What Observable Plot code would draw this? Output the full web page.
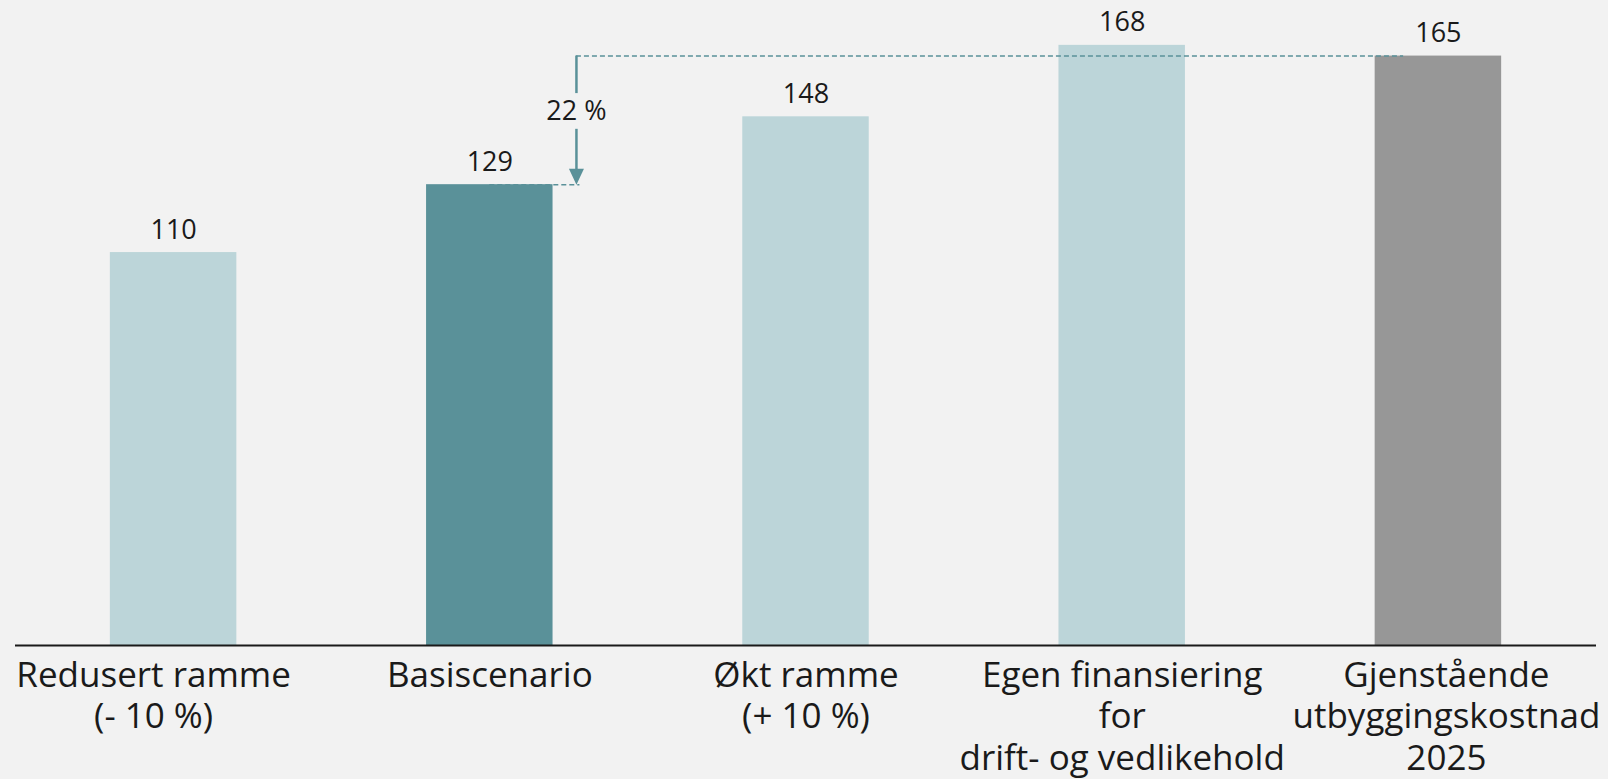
<!DOCTYPE html>
<html><head><meta charset="utf-8">
<script src="https://cdn.jsdelivr.net/npm/d3@7"></script>
<script src="https://cdn.jsdelivr.net/npm/@observablehq/plot@0.6"></script>
<style>
  html, body { margin: 0; padding: 0; background: #f2f2f2; }
  svg { display: block; }
</style>
</head><body>
<div id="chart"></div>
<script>
// ---- data ----
const categories = [
  "Redusert ramme\n(- 10 %)",
  "Basiscenario",
  "Økt ramme\n(+ 10 %)",
  "Egen finansiering\nfor\ndrift- og vedlikehold",
  "Gjenstående\nutbyggingskostnad\n2025"
];
const values = [110, 129, 148, 168, 165];
const kinds = ["scenario", "base", "scenario", "scenario", "remaining"];

// annotation: change from Basiscenario up to remaining cost
const changeLabel = "22 %";
const changeFrom = 129;
const changeTo = 165;

const data = categories.map((label, i) => ({i, label, value: values[i], kind: kinds[i]}));

// ---- layout / style ----
const W = 1608, H = 779, ML = 15, MR = 12;
const stepPx = (W - ML - MR) / categories.length;
const labelNudgePx = [-20, 0, 0, 0, 8];   // horizontal nudge of category labels (px)
const teal = "#5a9199";
const arrowX = 1.274;      // horizontal position of the arrow (in category index units)
const topDashEnd = 3.89;
const lowDashEnd = 1.285;
const halfBar = 0.2;

const triDown = {
  draw(ctx) {
    ctx.moveTo(-7.5, -16);
    ctx.lineTo(7.5, -16);
    ctx.lineTo(0, 0);
    ctx.closePath();
  }
};

const chart = Plot.plot({
  width: W,
  height: H,
  marginLeft: ML,
  marginRight: MR,
  marginTop: 2,
  marginBottom: 134,
  style: {background: "#f2f2f2", fontFamily: "'Open Sans', sans-serif", color: "#1a1a1a"},
  x: {type: "linear", domain: [-0.5, 4.5], axis: null},
  y: {domain: [0, 180], axis: null},
  color: {domain: ["scenario", "base", "remaining"], range: ["#bcd5d9", teal, "#979797"]},
  marks: [
    Plot.rectY(data, {x1: d => d.i - halfBar, x2: d => d.i + halfBar, y: "value", fill: "kind"}),
    Plot.ruleY([0], {stroke: "#1a1a1a", strokeWidth: 2}),
    Plot.text(data, {x: "i", y: "value", text: d => String(d.value), lineAnchor: "bottom", dy: -14, fontSize: 27, fill: "#1a1a1a"}),
    Plot.text(data, {x: d => d.i + labelNudgePx[d.i] / stepPx, y: 0, text: "label", lineAnchor: "top", dy: 11.3, fontSize: 35, lineHeight: 1.195, fill: "#1a1a1a"}),
    // dashed reference lines
    Plot.ruleY([changeTo], {x1: arrowX, x2: topDashEnd, stroke: teal, strokeWidth: 1.5, strokeDasharray: "5,3"}),
    Plot.ruleY([changeFrom], {x1: 1, x2: lowDashEnd, stroke: teal, strokeWidth: 1.5, strokeDasharray: "5,3"}),
    // arrow
    Plot.ruleX([arrowX], {y1: changeTo, y2: 154.5, stroke: teal, strokeWidth: 2.5}),
    Plot.ruleX([arrowX], {y1: 144.5, y2: 131, stroke: teal, strokeWidth: 2.5}),
    Plot.dot([{x: arrowX, y: changeFrom}], {x: "x", y: "y", symbol: triDown, fill: teal, stroke: "none"}),
    Plot.text([{x: arrowX, y: (changeFrom + changeTo) / 2}], {x: "x", y: "y", text: () => changeLabel, lineAnchor: "bottom", fontSize: 27, fill: "#1a1a1a"})
  ]
});
document.getElementById("chart").appendChild(chart);
</script>
</body></html>
